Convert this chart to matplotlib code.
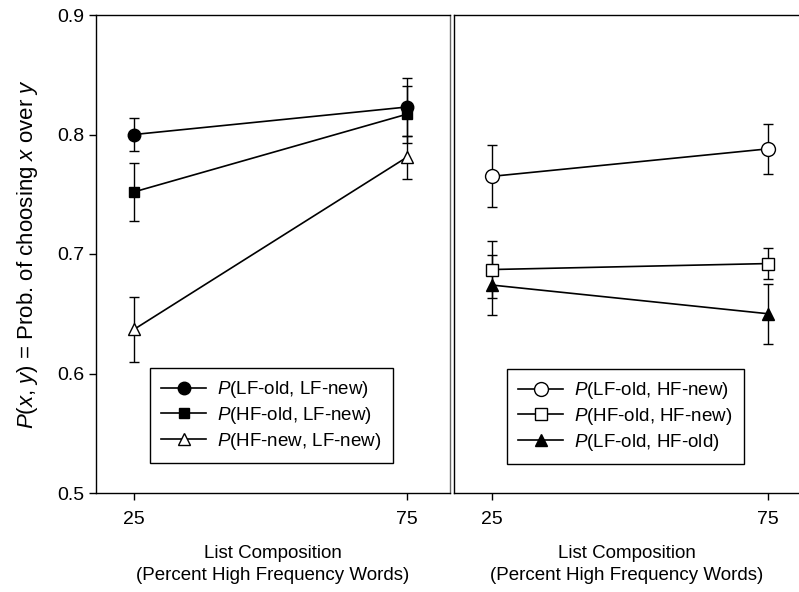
import matplotlib
matplotlib.use("Agg")
import matplotlib.pyplot as plt
from matplotlib.lines import Line2D

plt.rcParams['font.family'] = ['Liberation Sans', 'DejaVu Sans']
plt.rcParams['mathtext.fontset'] = 'custom'
plt.rcParams['mathtext.rm'] = 'Liberation Sans'
plt.rcParams['mathtext.it'] = 'Liberation Sans:italic'

# list composition (percent high frequency words)
comp = [25, 75]

# left panel
lf_old_lf_new = [0.800, 0.823]
lf_old_lf_new_err = [0.014, 0.024]
hf_old_lf_new = [0.752, 0.817]
hf_old_lf_new_err = [0.024, 0.024]
hf_new_lf_new = [0.637, 0.781]
hf_new_lf_new_err = [0.027, 0.018]

# right panel
lf_old_hf_new = [0.765, 0.788]
lf_old_hf_new_err = [0.026, 0.021]
hf_old_hf_new = [0.687, 0.692]
hf_old_hf_new_err = [0.024, 0.013]
lf_old_hf_old = [0.674, 0.650]
lf_old_hf_old_err = [0.025, 0.025]

yticks = [0.5, 0.6, 0.7, 0.8, 0.9]
xlab = "List Composition\n(Percent High Frequency Words)"

fig = plt.figure(figsize=(7.99, 5.92), dpi=100)
W, H = 799, 592
axL = fig.add_axes([96 / W, 1 - 493 / H, 354 / W, 478 / H])
axR = fig.add_axes([454 / W, 1 - 493 / H, 345 / W, 478 / H])


def series(ax, y, err, marker, face, ms, label):
    ax.errorbar(comp, y, yerr=err, color='black', marker=marker, ms=ms,
                mfc=face, mec='black', mew=1.0, lw=1.2, elinewidth=1.0,
                capsize=3.6, capthick=1.0, clip_on=False)
    return Line2D([], [], color='black', marker=marker, ms=ms, mfc=face,
                  mec='black', mew=1.0, lw=1.2, label=label)


hL = [
    series(axL, lf_old_lf_new, lf_old_lf_new_err, 'o', 'black', 9, r'$P$(LF-old, LF-new)'),
    series(axL, hf_old_lf_new, hf_old_lf_new_err, 's', 'black', 7.5, r'$P$(HF-old, LF-new)'),
    series(axL, hf_new_lf_new, hf_new_lf_new_err, '^', 'white', 9, r'$P$(HF-new, LF-new)'),
]
hR = [
    series(axR, lf_old_hf_new, lf_old_hf_new_err, 'o', 'white', 10, r'$P$(LF-old, HF-new)'),
    series(axR, hf_old_hf_new, hf_old_hf_new_err, 's', 'white', 8, r'$P$(HF-old, HF-new)'),
    series(axR, lf_old_hf_old, lf_old_hf_old_err, '^', 'black', 9, r'$P$(LF-old, HF-old)'),
]

for ax in (axL, axR):
    ax.set_ylim(0.5, 0.9)
    ax.set_xticks(comp)
    ax.tick_params(direction='out', length=5, width=1, labelsize=14)
    ax.tick_params(axis='x', pad=8)
    ax.set_xlabel(xlab, fontsize=13.5, labelpad=12, linespacing=1.4)
    for s in ax.spines.values():
        s.set_linewidth(1.0)

axL.set_xlim(18.0, 82.9)
axR.set_xlim(18.1, 80.6)
axL.set_yticks(yticks)
axL.set_yticklabels([f"{v:.1f}" for v in yticks])
axL.set_ylabel(r'$P$($x$, $y$) = Prob. of choosing $x$ over $y$', fontsize=16, labelpad=12)
axR.set_yticks([])
axR.spines['right'].set_visible(False)
axL.spines['right'].set_color('#666666')

for ax, h, anchor in ((axL, hL, (0.1525, 0.063)), (axR, hR, (0.1536, 0.061))):
    leg = ax.legend(handles=h, loc='lower left', bbox_to_anchor=anchor, borderaxespad=0,
                    fontsize=13.5, frameon=True, fancybox=False, framealpha=1,
                    edgecolor='black', handlelength=2.4, labelspacing=0.25,
                    borderpad=0.6, handletextpad=0.6)
    leg.get_frame().set_linewidth(1.0)

fig.savefig('out.png', dpi=100)
